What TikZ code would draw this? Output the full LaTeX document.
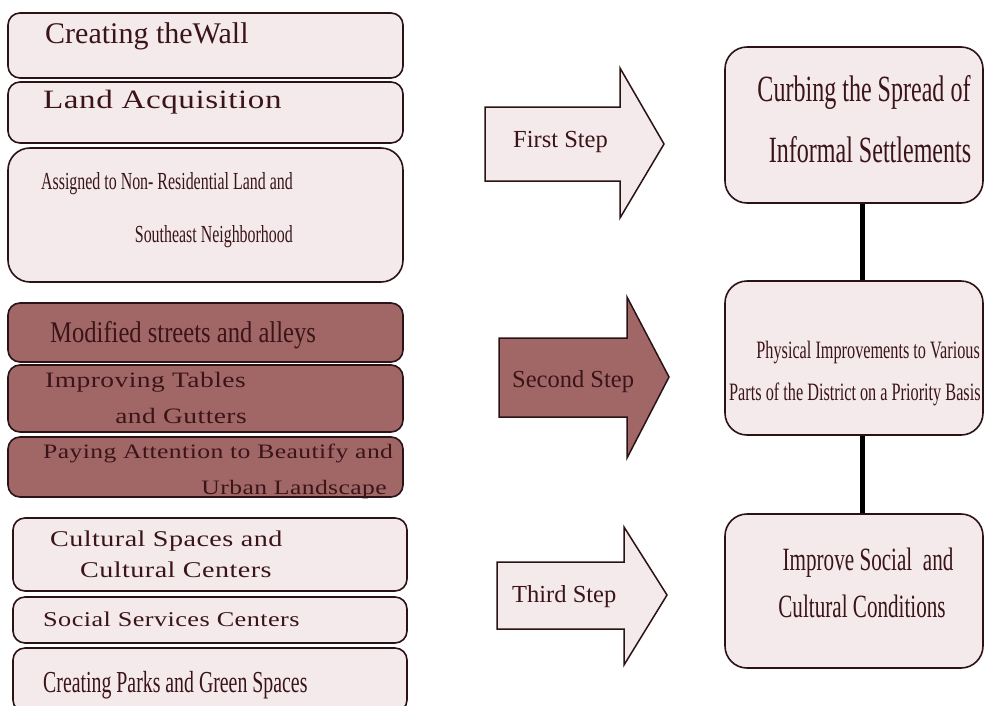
\documentclass[tikz,border=0pt]{standalone}
\usepackage{fontspec}
\setmainfont{Liberation Serif}
\newfontfamily\narrowface[FakeStretch=0.65]{Liberation Serif}
\newfontfamily\semiface[FakeStretch=0.82]{Liberation Serif}
\newfontfamily\wideface[FakeStretch=1.25,LetterSpace=2]{Liberation Serif}
\usepackage{tikz}
\usepackage{xcolor}
\definecolor{pale}{HTML}{F4EAEB}
\definecolor{rose}{HTML}{A16767}
\definecolor{edge}{HTML}{2A1215}
\definecolor{ink}{HTML}{3A1418}
\newcommand{\sz}[1]{\fontsize{#1}{#1}\selectfont}

\begin{document}
\begin{tikzpicture}[x=1pt,y=-1pt,
  lightbox/.style={draw=edge,fill=pale,line width=1.6,rounded corners=12,inner sep=0},
  darkbox/.style={lightbox,fill=rose},
  stepshape/.style={draw=edge,line width=1.5,line join=miter},
  txt/.style={inner sep=0,text=ink},
  link/.style={line width=5,black}]
\useasboundingbox (0,0) rectangle (984,705);
\clip (0,0) rectangle (984,705);

% first group of measures
\node[lightbox,minimum width=395,minimum height=65] (wall) at (205.5,45.5) {};
\node[lightbox,minimum width=395,minimum height=61] (land) at (205.5,112.5) {};
\node[lightbox,minimum width=395,minimum height=134,rounded corners=22] (assign) at (205.5,215) {};
\node[txt,anchor=base west] (wallT) at (45,43) {\sz{30}Creating theWall};
\node[txt,anchor=base west] (landT) at (43,108) {\wideface\sz{26.5}Land Acquisition};
\node[txt,anchor=base east] (assignA) at (293,189) {\narrowface\sz{24.5}Assigned to Non- Residential Land and};
\node[txt,anchor=base east] (assignB) at (293,242) {\narrowface\sz{24.5}Southeast Neighborhood};

% second group
\node[darkbox,minimum width=395,minimum height=59] (streets) at (205.5,332.5) {};
\node[darkbox,minimum width=395,minimum height=67] (tables) at (205.5,398.5) {};
\node[darkbox,minimum width=395,minimum height=60] (beauty) at (205.5,467) {};
\node[txt,anchor=base west] (streetsT) at (50,342) {\semiface\sz{30}Modified streets and alleys};
\node[txt,anchor=base west] (tablesA) at (45,387) {\wideface\sz{22}Improving Tables};
\node[txt,anchor=base east] (tablesB) at (247,423) {\wideface\sz{22}and Gutters};
\node[txt,anchor=base west] (beautyA) at (43,458) {\wideface\sz{20.5}Paying Attention to Beautify and};
\node[txt,anchor=base east] (beautyB) at (387,494) {\wideface\sz{20.5}Urban Landscape};

% third group
\node[lightbox,minimum width=394,minimum height=73] (culture) at (210,554.5) {};
\node[lightbox,minimum width=394,minimum height=46] (social) at (210,620) {};
\node[lightbox,minimum width=394,minimum height=64] (parks) at (210,680) {};
\node[txt,anchor=base west] (cultureA) at (50,546) {\wideface\sz{22.5}Cultural Spaces and};
\node[txt,anchor=base west] (cultureB) at (80,577) {\wideface\sz{22.5}Cultural Centers};
\node[txt,anchor=base west] (socialT) at (43,626) {\wideface\sz{21}Social Services Centers};
\node[txt,anchor=base west] (parksT) at (43,692) {\narrowface\sz{30.5}Creating Parks and Green Spaces};

% step arrows
\draw[stepshape,fill=pale] (485,107) -- (620,107) -- (620,68) -- (664,144) -- (620,218) -- (620,181) -- (485,181) -- cycle;
\draw[stepshape,fill=rose] (499,338) -- (627,338) -- (627,297) -- (669,377) -- (627,458) -- (627,417) -- (499,417) -- cycle;
\draw[stepshape,fill=pale] (497,562) -- (624,562) -- (624,527) -- (667,595) -- (624,665) -- (624,629) -- (497,629) -- cycle;
\node[txt,anchor=base west] (first) at (513,147) {\sz{24.5}First Step};
\node[txt,anchor=base west] (second) at (512,387) {\sz{24.5}Second Step};
\node[txt,anchor=base west] (third) at (512,602) {\sz{24.5}Third Step};

% results
\node[lightbox,minimum width=258,minimum height=156,rounded corners=22] (curb) at (854,125) {};
\node[lightbox,minimum width=258,minimum height=154,rounded corners=22] (phys) at (854,358) {};
\node[lightbox,minimum width=258,minimum height=154,rounded corners=22] (soc) at (854,591) {};
\node[txt,anchor=base] (curbA) at (864,101) {\narrowface\sz{37}Curbing the Spread of};
\node[txt,anchor=base] (curbB) at (870,162) {\narrowface\sz{37}Informal Settlements};
\node[txt,anchor=base east] (physA) at (980,358) {\narrowface\sz{25}Physical Improvements to Various};
\node[txt,anchor=base west] (physB) at (729,400) {\narrowface\sz{25}Parts of the District on a Priority Basis};
\node[txt,anchor=base] (socA) at (868,570) {\narrowface\sz{32.5}Improve Social\ \ and};
\node[txt,anchor=base] (socB) at (862,617) {\narrowface\sz{32.5}Cultural Conditions};

\draw[link] ([xshift=8]curb.south) -- ([xshift=8]phys.north);
\draw[link] ([xshift=8]phys.south) -- ([xshift=8]soc.north);
\end{tikzpicture}
\end{document}
